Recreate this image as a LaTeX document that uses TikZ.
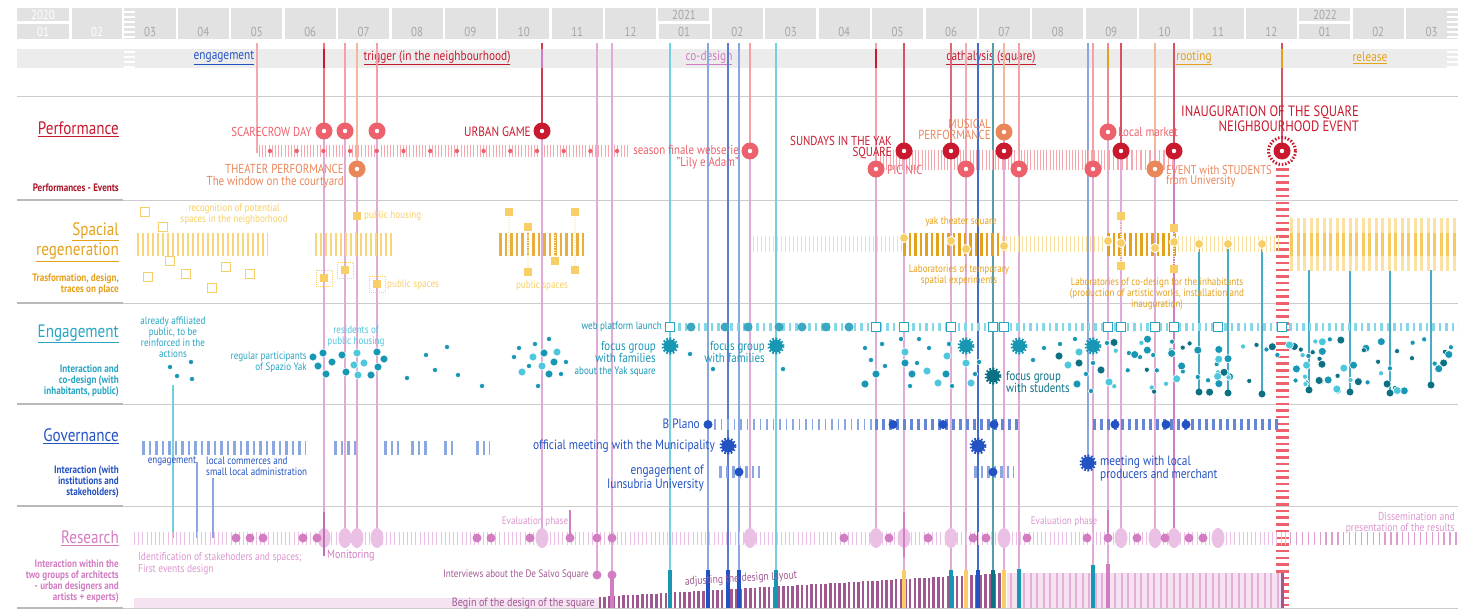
\documentclass[tikz,border=0pt]{standalone}
\usepackage{fontspec}
\setmainfont{PT Sans}[FakeStretch=0.84]
\usepackage{tikz}
\usetikzlibrary{positioning}
\definecolor{perfred}{HTML}{C8192E}
\definecolor{perfsalmon}{HTML}{EC616B}
\definecolor{perforange}{HTML}{EA875A}
\definecolor{perfhatch}{HTML}{F6A6AD}
\definecolor{spacegold}{HTML}{E5A11C}
\definecolor{spacelight}{HTML}{F8CF66}
\definecolor{spacepale}{HTML}{FCE2A2}
\definecolor{engteal}{HTML}{27A5C3}
\definecolor{engdot}{HTML}{1897B5}
\definecolor{englight}{HTML}{4EC6DC}
\definecolor{engdark}{HTML}{0D7184}
\definecolor{govblue}{HTML}{2352C2}
\definecolor{govlight}{HTML}{8BA7E2}
\definecolor{respink}{HTML}{D27CC2}
\definecolor{reslight}{HTML}{EBC0E5}
\definecolor{respale}{HTML}{F5E3F2}
\definecolor{resplum}{HTML}{A05890}
\definecolor{cellgray}{HTML}{E2E2E2}
\definecolor{bargray}{HTML}{ECECEC}
\definecolor{rulegray}{HTML}{CCCCCC}
\definecolor{monthtext}{HTML}{A6A6A6}
\colorlet{engc0}{engdot}
\colorlet{engc1}{englight}
\colorlet{engc2}{engdark}
\newcommand{\fsz}[2]{\fontsize{#1}{#2}\selectfont}

\begin{document}
\begin{tikzpicture}[x=1pt,y=-1pt,
  lab/.style={inner sep=0pt,font=\fsz{10.8}{11}},
  ttl/.style={inner sep=0pt,anchor=east,align=right,font=\fsz{18}{20}},
  sub/.style={inner sep=0pt,anchor=east,align=right,font=\bfseries\fsz{10.8}{11}},
  ring/.style={circle,fill=#1,minimum size=17pt,inner sep=0pt,
    path picture={\fill[white] (path picture bounding box.center) circle (2.2pt);}},
  burst/.style={circle,fill=#1,draw=#1,minimum size=13pt,inner sep=0pt,line width=4pt,dash pattern=on 1.5pt off 1.5pt},
  box/.style={draw=engteal,fill=white,line width=1.2pt,minimum size=9pt,inner sep=0pt},
  spot/.style={circle,fill=#1,draw=white,line width=0.8pt,minimum size=9pt,inner sep=0pt},
  tile/.style={fill=spacelight,minimum size=8pt,inner sep=0pt},
  lot/.style={draw=spacelight,line width=1.2pt,fill=white,minimum size=9pt,inner sep=0pt},
  ev/.style={line width=1.2pt}]
  \useasboundingbox (0,0) rectangle (1484,610);

  % calendar
  \fill[cellgray] (17,8) rectangle (69,21);
  \fill[cellgray] (17,24) rectangle (69,39);
  \fill[cellgray] (72,8) rectangle (122,39);
  \node[lab,text=white,font=\fsz{13}{13}] (y2020) at (43,15) {2020};
  \node[lab,text=white,font=\fsz{13}{13}] (m2001) at (43,32) {01};
  \node[lab,text=white,font=\fsz{13}{13}] (m2002) at (97,32) {02};
  \fill[cellgray] (124,8) rectangle (135,39);
  \fill[cellgray] (1445,8) rectangle (1458,39);
  \foreach \m in {0,...,24} {
    \pgfmathsetmacro\cx{150+53.4*\m}
    \pgfmathtruncatemacro\mm{mod(\m+2,12)+1}
    \pgfmathsetmacro\ty{or(\m==10,\m==22)?24:8}
    \fill[cellgray] (\cx-25.5,\ty) rectangle (\cx+25.5,39);
    \node[lab,text=monthtext,font=\fsz{13}{13}] (mon\m) at (\cx,32) {\ifnum\mm<10 0\fi\mm};
  }
  \fill[cellgray] (658,8) rectangle (709,21);
  \fill[cellgray] (1299,8) rectangle (1350,21);
  \node[lab,text=monthtext,font=\fsz{13}{13}] (y2021) at (684,15) {2021};
  \node[lab,text=monthtext,font=\fsz{13}{13}] (y2022) at (1325,15) {2022};

  % phases
  \fill[bargray] (17,49) rectangle (1458,68);
  \foreach \y in {12,17,...,37} {
    \draw[white,line width=1.6pt] (124,\y) -- (135,\y);
    \draw[white,line width=1.6pt] (1447,\y) -- (1458,\y);
  }
  \foreach \y in {52,57,62,67} {
    \draw[white,line width=1.6pt] (124,\y) -- (135,\y);
    \draw[white,line width=1.6pt] (1447,\y) -- (1458,\y);
  }
  \node[lab,text=govblue,font=\fsz{13.5}{13.5}] (ph1) at (224,58) {\underline{engagement}};
  \node[lab,text=perfred,font=\fsz{13.5}{13.5}] (ph2) at (437,58) {\underline{trigger (in the neighbourhood)}};
  \node[lab,text=respink,font=\fsz{13.5}{13.5}] (ph3) at (709,58) {\underline{co-design}};
  \node[lab,text=perfred,font=\fsz{13.5}{13.5}] (ph4) at (991,58) {\underline{cathalysis (square)}};
  \node[lab,text=spacegold,font=\fsz{13.5}{13.5}] (ph5) at (1194,58) {\underline{rooting}};
  \node[lab,text=spacegold,font=\fsz{13.5}{13.5}] (ph6) at (1370,58) {\underline{release}};

  % section rules and titles
  \foreach \y in {97,200,303,404,506,608}
    \draw[rulegray,line width=1pt] (17,\y) -- (1458,\y);
  \foreach \y in {200,303,404,506,608}
    \draw[gray!55,line width=2pt] (17,\y) -- (123,\y);
  \node[ttl,text=perfred] (tperf) at (119,129) {\underline{Performance}};
  \node[sub,text=perfred!85!black] (sperf) at (119,188) {Performances - Events};
  \node[ttl,text=spacegold] (tspace) at (119,242) {\underline{Spacial}\\\underline{regeneration}};
  \node[sub,text=spacegold] (sspace) at (119,284) {Trasformation, design,\\traces on place};
  \node[ttl,text=engteal] (teng) at (119,334) {\underline{Engagement}};
  \node[sub,text=engteal] (seng) at (119,381) {Interaction and\\co-design (with\\inhabitants, public)};
  \node[ttl,text=govblue] (tgov) at (119,436) {\underline{Governance}};
  \node[sub,text=govblue] (sgov) at (119,482) {Interaction (with\\institutions and\\stakeholders)};
  \node[ttl,text=respink] (tres) at (119,538) {\underline{Research}};
  \node[sub,text=respink] (sres) at (119,581) {Interaction within the\\two groups of architects\\- urban designers and\\artists + experts)};

  % event lines through the sections
  \foreach \x/\ca/\ya/\cb/\yb in {
    257/perfsalmon!55/153/perfsalmon!55/153,
    324/perfsalmon!90/131/respink!65/538,
    345/perfsalmon!60/131/respink!65/538,
    357/perforange!60/169/respink!65/538,
    377/perfsalmon!60/131/respink!65/538,
    542/perfred!85/131/respink!65/538,
    597/respink!65/575/respink!65/575,
    612/respink!65/575/respink!65/575,
    670/englight!80/608/englight!80/608,
    708/govlight/608/govlight/608,
    728/govblue!75/608/govblue!75/608,
    739/govlight/608/govlight/608,
    750/perfsalmon!60/151/respink!65/538,
    776/englight!80/608/englight!80/608,
    876/perfsalmon!60/169/respink!65/538,
    904/perfred!75/151/respink!65/590,
    951/perfred!65/151/respink!65/590,
    966/perfsalmon!55/169/respink!65/590,
    978/govblue!85/590/govblue!85/590,
    993/engdark!70/590/engdark!70/590,
    1004/perforange!60/132/respink!65/590,
    1019/perfsalmon!60/169/respink!65/590,
    1088/govlight/463/govlight/463,
    1093/perfsalmon!60/169/respink!65/590,
    1108/perfsalmon!75/132/respink!65/590,
    1121/perfred!75/151/respink!65/538,
    1155/perforange!60/169/respink!65/538,
    1174/perfred!75/151/respink/538,
    1282/perfred!75/151/perfred!75/151}
  {
    \draw[ev,\ca] (\x,43) -- (\x,\ya);
    \draw[ev,\cb] (\x,\ya) -- (\x,\yb);
  }
  \draw[ev,englight!80] (173,385) -- (173,538);
  \draw[ev,govlight] (197,462) -- (197,538);
  \draw[ev,govlight] (213,478) -- (213,538);
  \foreach \x/\ya/\yb in {1199/244/392,1228/244/393,1262/244/394,1309/270/390,1350/270/392,1390/270/393,1431/270/385}
    \draw[ev,engdot!80] (\x,\ya) -- (\x,\yb);
  \draw[perfred,line width=2.5pt] (324,49) -- (324,68);
  \draw[respink,line width=2.5pt] (542,49) -- (542,68);
  \draw[perfred,line width=2.5pt] (876,49) -- (876,68);
  \draw[spacegold,line width=2.5pt] (1108,49) -- (1108,68);
  \draw[spacegold,line width=2.5pt] (1282,49) -- (1282,68);

  % performance
  \draw[perfhatch,line width=12pt,dash pattern=on 1pt off 2.2pt] (259,151) -- (630,151);
  \foreach \i in {0,...,13}
    \fill[perfsalmon] ({270+26.7*\i},151) circle (2.2);
  \draw[perfhatch,line width=20pt,dash pattern=on 1pt off 2.2pt] (880,160) -- (1108,160);
  \draw[perfhatch,line width=20pt,dash pattern=on 1.6pt off 3pt] (1108,160) -- (1176,160);
  \node[ring=perfsalmon] (sc1) at (324,131) {};
  \node[ring=perfsalmon] (sc2) at (345,131) {};
  \node[ring=perfsalmon] (sc3) at (377,131) {};
  \node[lab,anchor=east,text=perfsalmon,font=\fsz{13}{13}] (scare) at (312,132) {SCARECROW DAY};
  \node[ring=perforange] (th1) at (357,169) {};
  \node[lab,anchor=east,align=right,text=perforange,font=\fsz{13}{11.5}] (theater) at (344,176) {THEATER PERFORMANCE\\The window on the courtyard};
  \node[ring=perfred] (ug1) at (542,131) {};
  \node[lab,anchor=east,text=perfred,font=\fsz{13.5}{13}] (urban) at (531,132) {URBAN GAME};
  \node[ring=perfsalmon] (sf1) at (750,151) {};
  \node[lab,anchor=east,align=right,text=perfsalmon,font=\fsz{13}{11.5}] (season) at (739,157) {season finale webserie\\"Lily e Adam"};
  \node[ring=perfred] (su1) at (904,151) {};
  \node[lab,anchor=east,align=right,text=perfred,font=\fsz{13}{11}] (sundays) at (892,148) {SUNDAYS IN THE YAK\\SQUARE};
  \node[ring=perfsalmon] (pn1) at (876,169) {};
  \node[lab,anchor=west,text=perfsalmon,font=\fsz{13}{13}] (picnic) at (887,170) {PIC NIC};
  \node[ring=perforange] (mu1) at (1004,132) {};
  \node[lab,anchor=east,align=right,text=perforange,font=\fsz{13}{11}] (musical) at (991,129) {MUSICAL\\PERFORMANCE};
  \foreach \x in {951,1004,1121,1174}
    \node[ring=perfred] (dr\x) at (\x,151) {};
  \foreach \x in {966,1019,1093}
    \node[ring=perfsalmon] (ds\x) at (\x,169) {};
  \node[ring=perfsalmon] (lm1) at (1108,132) {};
  \node[lab,anchor=west,text=perfsalmon,font=\fsz{13}{12}] (market) at (1118,132) {Local market};
  \node[ring=perforange] (es1) at (1155,169) {};
  \node[lab,anchor=west,align=left,text=perforange,font=\fsz{12.6}{10}] (students) at (1166,176) {EVENT with STUDENTS\\from University};
  \draw[perfsalmon,line width=13pt,dash pattern=on 2.5pt off 4.2pt] (1282,168) -- (1282,608);
  \draw[perfred,line width=3pt,dash pattern=on 1.5pt off 1.8pt] (1282,151) circle (13.5);
  \node[ring=perfred] (inaug) at (1282,151) {};
  \node[lab,anchor=east,align=right,text=perfred,font=\fsz{15}{15}] (inaugtxt) at (1359,119) {INAUGURATION OF THE SQUARE\\NEIGHBOURHOOD EVENT};

  % spacial regeneration
  \draw[spacelight!85,line width=23pt,dash pattern=on 2pt off 3pt] (137,244) -- (268,244);
  \draw[spacelight!85,line width=23pt,dash pattern=on 2pt off 3pt] (315,244) -- (394,244);
  \draw[spacegold!85,line width=23pt,dash pattern=on 2.5pt off 3pt] (499,244) -- (586,244);
  \draw[spacepale,line width=16pt,dash pattern=on 1pt off 3pt] (753,244) -- (902,244);
  \draw[spacegold,line width=23pt,dash pattern=on 2.5pt off 3pt] (903,244) -- (1000,244);
  \draw[spacepale,line width=16pt,dash pattern=on 1pt off 3pt] (1002,244) -- (1106,244);
  \draw[spacegold,line width=23pt,dash pattern=on 2.5pt off 3pt] (1107,244) -- (1176,244);
  \draw[spacepale,line width=16pt,dash pattern=on 1pt off 3pt] (1178,244) -- (1280,244);
  \draw[spacepale,line width=53pt,dash pattern=on 3pt off 3.5pt] (1290,244) -- (1458,244);
  \draw[spacelight!90!spacegold,line width=23pt,dash pattern=on 3pt off 3.5pt] (1290,244) -- (1458,244);
  \foreach \x/\y [count=\i] in {145/212,163/227,170/261,148/277,186/274,226/267,212/288,250/274}
    \node[lot] (rec\i) at (\x,\y) {};
  \node[lab,align=center,text=spacelight] (recog) at (234,214) {recognition of potential\\spaces in the neighborhood};
  \node[tile] (ph) at (357,216) {};
  \node[lab,anchor=west,text=spacelight] (housing) at (364,216) {public housing};
  \foreach \x/\y [count=\i] in {324/278,345/270,377/284} {
    \draw[spacelight,line width=1pt,dash pattern=on 1pt off 1pt] (\x-8,\y-8) rectangle (\x+8,\y+8);
    \node[tile] (ps\i) at (\x,\y) {};
  }
  \node[lab,anchor=west,text=spacelight] (pubsp1) at (387,285) {public spaces};
  \foreach \x/\ya/\yb in {509/212/255,528/227/272,555/232/261,575/212/270,1121/216/266,1174/228/269}
    \draw[white!60!spacelight,line width=1.2pt,dash pattern=on 1pt off 1.5pt] (\x,\ya) -- (\x,\yb);
  \foreach \x/\y [count=\i] in {509/212,575/212,528/227,555/261,528/272,575/270,1121/216,1121/266,1174/228,1174/269}
    \node[tile] (sq\i) at (\x,\y) {};
  \node[lab,text=spacelight] (pubsp2) at (542,286) {public spaces};
  \foreach \x/\y in {904/238,951/241,966/249,1004/246,1108/241,1121/243,1155/248,1174/242,1199/244,1228/244,1262/244}
    \node[spot=spacelight] (yd\x) at (\x,\y) {};
  \node[lab,text=spacegold] (yak) at (961,222) {yak theater square};
  \node[lab,align=center,text=spacegold] (labtemp) at (959,275) {Laboratories of temporary\\spatial experiments};
  \node[lab,align=center,text=spacegold] (labcod) at (1157,294) {Laboratories of co-design for the inhabitants\\(production of artistic works, installation and\\inauguration)};

  % engagement
  \draw[englight!70,line width=8pt,dash pattern=on 2.5pt off 4pt] (678,327) -- (1458,327);
  \foreach \x in {691,725,748,779,802,826,849}
    \fill[engdot!85] (\x,327) circle (4.5);
  \foreach \x in {670,876,904,951,993,1004,1108,1121,1155,1174,1218,1282}
    \node[box] (wb\x) at (\x,327) {};
  \node[lab,anchor=east,text=engdot] (web) at (662,327) {web platform launch};
  \foreach \x/\y/\r/\k in {170/367/2.6/0,191/362/2.6/0,177/376/2.6/0,192/379/2.6/0,
    313/357/4/0,323/353/4/0,332/362/4/0,318/366/4/0,326/374/4/0,342/355/4/0,357/353/4/1,354/365/4/1,364/363/4/1,346/372/4/0,358/375/4/1,371/375/4/0,377/352/4/0,384/359/4/0,378/367/4/0,
    407/378/2.6/0,426/355/2.6/0,447/347/2.6/0,435/370/2.6/0,458/375/2.6/0,482/386/2.6/0,
    519/348/2.6/0,535/344/2.6/0,549/339/2.6/0,514/357/2.6/0,533/357/4/1,544/353/4/0,557/352/4/1,529/366/2.6/0,542/366/4/1,554/362/4/0,566/362/2.6/0,522/372/4/1,549/374/4/0,561/374/2.6/0,538/386/2.6/0,
    690/354/2.6/0,713/369/2.6/0,783/369/2.6/0,
    865/348/2.6/0,882/344/2.6/0,871/360/2.6/0,885/366/2.6/0,876/374/4/0,865/384/4/0,901/339/2.6/0,905/352/4/1,905/363/4/0,910/386/2.6/0,912/374/4/0,917/363/2.6/0,919/339/2.6/0,927/371/4/1,929/348/2.6/0,938/383/4/1,947/356/4/1,946/374/4/0,949/344/2.6/0,952/386/2.6/0,966/363/4/1,971/383/4/1,975/374/2.6/0,979/362/2.6/0,
    1033/360/2.6/0,1044/348/2.6/0,1060/344/2.6/0,1059/356/4/2,1068/365/4/1,1075/339/2.6/0,1079/363/4/2,1079/352/4/1,1077/384/4/0,1086/374/2.6/0,1091/391/2.6/0,1093/363/2.6/0,1101/370/4/2,1107/343/2.6/0,1109/382/4/1}
    \fill[engc\k,draw=white,line width=0.6pt] (\x,\y) circle (\r);
  \pgfmathsetseed{11}
  \foreach \i in {1,...,95} {
    \pgfmathsetmacro\dx{1114+340*rnd}
    \pgfmathsetmacro\dy{339+54*rnd}
    \pgfmathtruncatemacro\k{3*rnd}
    \pgfmathsetmacro\dr{rnd<0.55?2.6:4}
    \fill[engc\k,draw=white,line width=0.6pt] (\dx,\dy) circle (\dr);
  }
  \foreach \x/\y in {1199/392,1228/393,1262/394,1309/390,1350/392,1390/393,1431/385}
    \fill[engdark] (\x,\y) circle (3.5);
  \node[lab,align=center,text=engteal] (affil) at (173,337) {already affiliated\\public, to be\\reinforced in the\\actions};
  \node[lab,anchor=east,align=right,text=engteal] (regular) at (307,362) {regular participants\\of Spazio Yak};
  \node[lab,align=center,text=englight] (resid) at (356,336) {residents of\\public housing};
  \node[burst=engdot] (fg1) at (670,346) {};
  \node[lab,anchor=east,align=right,text=engdot,font=\fsz{13}{12}] (fg1txt) at (656,352) {focus group\\with families};
  \node[lab,anchor=east,text=engdot] (yaksq) at (656,372) {about the Yak square};
  \node[burst=engdot] (fg2) at (776,346) {};
  \node[lab,anchor=east,align=right,text=engdot,font=\fsz{13}{12}] (fg2txt) at (765,352) {focus group\\with families};
  \foreach \x in {966,1019,1093}
    \node[burst=engdot] (fg\x) at (\x,346) {};
  \node[burst=engdark] (fgs) at (993,376) {};
  \node[lab,anchor=west,align=left,text=engdark,font=\fsz{13}{12}] (fgstxt) at (1006,382) {focus group\\with students};

  % governance
  \draw[govlight,line width=14pt,dash pattern=on 2.5pt off 4pt] (142,448) -- (306,448);
  \foreach \xa/\xb in {334/357,384/399,411/429,444/453,476/490}
    \draw[govlight,line width=14pt,dash pattern=on 2.5pt off 4pt] (\xa,448) -- (\xb,448);
  \node[lab,text=govblue] (engtxt) at (172,461) {engagement};
  \node[lab,anchor=west,align=left,text=govblue] (commerce) at (206,466) {local commerces and\\small local administration};
  \draw[govlight,line width=11pt,dash pattern=on 1.5pt off 5pt] (714,424.5) -- (875,424.5);
  \draw[govblue!70,line width=11pt,dash pattern=on 2.5pt off 4.5pt] (875,424.5) -- (1020,424.5);
  \draw[govblue!70,line width=11pt,dash pattern=on 2.5pt off 4.5pt] (1093,424.5) -- (1282,424.5);
  \foreach \x in {708,893,943,994,1115,1166,1186}
    \fill[govblue] (\x,424.5) circle (4.5);
  \node[lab,anchor=east,text=govblue,font=\fsz{13.5}{13}] (plano) at (700,424) {B Plano};
  \node[burst=govblue] (off) at (728,446) {};
  \node[lab,anchor=east,text=govblue,font=\fsz{13.5}{13}] (offtxt) at (715,446) {official meeting with the Municipality};
  \draw[govlight,line width=12pt,dash pattern=on 2.5pt off 4pt] (719,472) -- (760,472);
  \draw[govlight,line width=12pt,dash pattern=on 2.5pt off 4pt] (974,472) -- (1014,472);
  \fill[govblue] (739,472) circle (4.5);
  \fill[govblue] (993,472) circle (4.5);
  \node[lab,anchor=east,align=right,text=govblue,font=\fsz{13.5}{14}] (insub) at (704,478) {engagement of\\Iunsubria University};
  \node[burst=govblue] (gm1) at (978,446) {};
  \node[burst=govblue] (gm2) at (1088,463) {};
  \node[lab,anchor=west,align=left,text=govblue,font=\fsz{13.5}{13}] (merchant) at (1100,469) {meeting with local\\producers and merchant};

  % research
  \draw[reslight,line width=13pt,dash pattern=on 1pt off 3.2pt] (134,538) -- (1288,538);
  \draw[respink!75,line width=13pt,dash pattern=on 1.3pt off 4.6pt] (1290,538) -- (1458,538);
  \foreach \x in {324,345,357,377,542,750,876,904,951,1004,1121,1155,1174,1218}
    \fill[reslight] (\x,538) ellipse (6.5 and 10);
  \foreach \x in {236,250,263,303,317,477,491,530,570,597,612,844,889,928,973,986,1027,1087,1108,1137,1165,1189,1203}
    \fill[respink] (\x,538) circle (4.5);
  \draw[respink!90!black,line width=2pt] (324,512) -- (324,556);
  \draw[respink,line width=2pt] (904,512) -- (904,557);
  \draw[respink,line width=2pt] (570,510) -- (570,537);
  \draw[respink,line width=2pt] (1108,510) -- (1108,537);
  \node[lab,anchor=west,text=respink,font=\fsz{12}{12}] (monit) at (327,556) {Monitoring};
  \node[lab,anchor=west,align=left,text=respink!80,font=\fsz{11.2}{12}] (ident) at (138,564) {Identification of stakehoders and spaces;\\First events design};
  \node[lab,text=respink!80] (eval1) at (535,522) {Evaluation phase};
  \node[lab,text=respink!80] (eval2) at (1064,522) {Evaluation phase};
  \node[lab,anchor=east,align=right,text=respink!80,font=\fsz{11.5}{11}] (dissem) at (1455,523) {Dissemination and\\presentation of the results};
  \fill[respink] (597,575) circle (4.5);
  \fill[respink] (612,575) circle (4.5);
  \node[lab,anchor=east,text=resplum] (interv) at (589,575) {Interviews about the De Salvo Square};

  % design ramp
  \fill[respale] (134,598) rectangle (600,608);
  \fill[respale] (1007,573) rectangle (1282,608);
  \foreach \x in {600,604.7,...,1005}{
    \pgfmathsetmacro\yt{597-24*(\x-597)/410}
    \draw[resplum,line width=2.5pt] (\x,\yt) -- (\x,608);
  }
  \foreach \x in {1011,1017.5,...,1278}
    \draw[respink!60,line width=2pt] (\x,573) -- (\x,608);
  \draw[resplum,line width=3pt] (1282,573) -- (1282,608);
  \draw[respink,line width=4pt] (612,575) -- (612,608);
  \foreach \x/\c in {670/engdot,708/govblue,728/govblue,739/govblue,776/engdot,904/spacelight,951/engdot,966/spacelight,978/govblue,993/engdark,1004/spacelight,1019/engdot,1093/engdot,1108/respink}{
    \pgfmathsetmacro\yt{min(597-24*(\x-597)/410,573)-3}
    \draw[\c,line width=4.5pt] (\x,\yt) -- (\x,608);
  }
  \node[lab,anchor=east,text=resplum,font=\fsz{12}{12}] (begin) at (595,604) {Begin of the design of the square};
  \node[lab,text=resplum,font=\fsz{11.5}{11},rotate=3.3] (adjust) at (741,579) {adjusting the design layout};
\end{tikzpicture}
\end{document}
